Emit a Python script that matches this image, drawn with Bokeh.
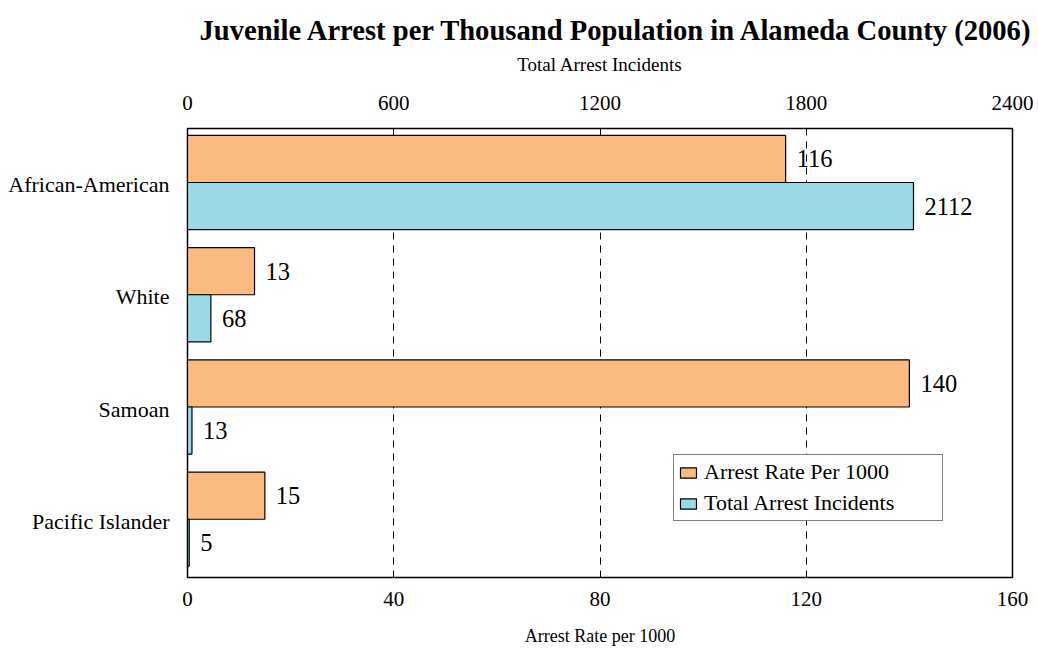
from bokeh.plotting import figure
from bokeh.models import (Range1d, FactorRange, LinearAxis, FixedTicker, ColumnDataSource,
                          Legend, LegendItem)
from bokeh.transform import dodge
from bokeh.embed import file_html
from bokeh.resources import INLINE

categories = ["African-American", "White", "Samoan", "Pacific Islander"]
arrest_rate = [116, 13, 140, 15]
total_incidents = [2112, 68, 13, 5]
rate_ticks = [0, 40, 80, 120, 160]
incident_ticks = [0, 600, 1200, 1800, 2400]

FONT = "Liberation Serif"
ORANGE = "#FBBA7F"
BLUE = "#9AD9E5"
UP = 0.2285
DOWN = -0.1905
BAR_H = 0.419

src = ColumnDataSource(dict(cat=categories, rate=arrest_rate, inc=total_incidents,
                            rate_txt=[str(v) for v in arrest_rate],
                            inc_txt=[str(v) for v in total_incidents]))

p = figure(width=1038, height=651, output_backend="svg", toolbar_location=None,
           y_range=FactorRange(factors=list(reversed(categories))),
           x_range=Range1d(0, 160),
           min_border_left=187, min_border_right=26, min_border_top=128, min_border_bottom=74)
p.extra_x_ranges = {"inc": Range1d(0, 2400)}

p.title.text = "Juvenile Arrest per Thousand Population in Alameda County (2006)"
p.title.text_font = FONT
p.title.text_font_size = "28.6px"
p.title.text_font_style = "bold"
p.title.text_color = "black"
p.title.align = "left"
p.title.offset = 12
p.title.standoff = 10

r1 = p.hbar(y=dodge("cat", UP, range=p.y_range), right="rate", left=0, height=BAR_H,
            source=src, fill_color=ORANGE, line_color="black", line_width=1.2)
r2 = p.hbar(y=dodge("cat", DOWN, range=p.y_range), right="inc", left=0, height=BAR_H,
            source=src, fill_color=BLUE, line_color="black", line_width=1.2, x_range_name="inc")

p.text(x="rate", y=dodge("cat", UP, range=p.y_range), text="rate_txt", source=src,
       x_offset=11, text_baseline="middle", text_align="left",
       text_font={"value": FONT}, text_font_size="24.5px", text_color="black")
p.text(x="inc", y=dodge("cat", DOWN, range=p.y_range), text="inc_txt", source=src,
       x_offset=11, text_baseline="middle", text_align="left",
       text_font={"value": FONT}, text_font_size="24.5px", text_color="black", x_range_name="inc")

bottom = p.xaxis[0]
bottom.ticker = FixedTicker(ticks=rate_ticks)
bottom.axis_label = "Arrest Rate per 1000"

top = LinearAxis(x_range_name="inc", ticker=FixedTicker(ticks=incident_ticks),
                 axis_label="Total Arrest Incidents")
p.add_layout(top, "above")

for ax in (bottom, top):
    ax.major_tick_in = 5
    ax.major_tick_out = 0
    ax.minor_tick_line_color = None
    ax.axis_line_color = "black"
    ax.major_tick_line_color = "black"
    ax.major_label_text_font = FONT
    ax.major_label_text_font_size = "21px"
    ax.major_label_text_color = "black"
    ax.axis_label_text_font = FONT
    ax.axis_label_text_font_style = "normal"
    ax.axis_label_text_color = "black"
top.axis_label_text_font_size = "19px"
bottom.axis_label_text_font_size = "18px"
bottom.major_label_standoff = 14
bottom.axis_label_standoff = 17
top.major_label_standoff = 19
top.axis_label_standoff = 18

left = p.yaxis[0]
left.major_tick_line_color = None
left.minor_tick_line_color = None
left.axis_line_color = "black"
left.major_label_text_font = FONT
left.major_label_text_font_size = "22px"
left.major_label_text_color = "black"
left.major_label_standoff = 12

p.ygrid.grid_line_color = None
p.xgrid.ticker = FixedTicker(ticks=[40, 80, 120, 160])
p.xgrid.grid_line_color = "black"
p.xgrid.grid_line_dash = "7 6"
p.xgrid.grid_line_width = 1

p.outline_line_color = "black"
p.outline_line_width = 1.5
p.background_fill_color = "white"
p.border_fill_color = "white"

legend = Legend(items=[LegendItem(label="Arrest Rate Per 1000", renderers=[r1]),
                       LegendItem(label="Total Arrest Incidents", renderers=[r2])],
                location=(486, 56))
legend.label_text_font = FONT
legend.label_text_font_size = "22px"
legend.label_text_color = "black"
legend.glyph_width = 20
legend.glyph_height = 13
legend.label_standoff = 6
legend.label_height = 22
legend.label_width = 234
legend.spacing = 5
legend.padding = 4
legend.margin = 0
legend.border_line_color = "black"
legend.border_line_width = 1.2
legend.background_fill_alpha = 1
p.add_layout(legend, "center")

open("out.html", "w").write(file_html(p, INLINE))
